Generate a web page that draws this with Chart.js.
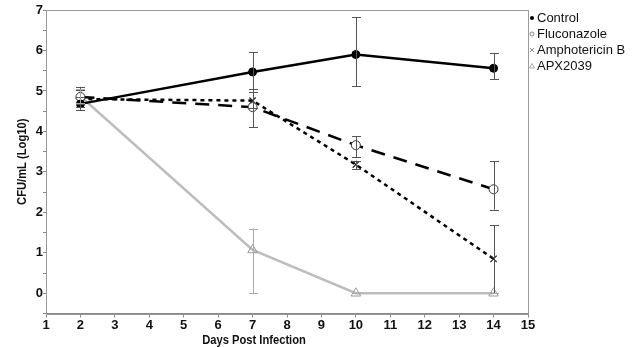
<!DOCTYPE html>
<html>
<head>
<meta charset="utf-8">
<script src="https://cdn.jsdelivr.net/npm/chart.js@4.4.1/dist/chart.umd.min.js"></script>
<style>
  html, body { margin: 0; padding: 0; background: #fff; }
  #wrap { width: 636px; height: 347px; }
</style>
</head>
<body>
<div id="wrap"><canvas id="c"></canvas></div>
<script>
// ── Data ────────────────────────────────────────────────────────────────────
const days = [2, 7, 10, 14];
const seriesNames = ["Control", "Fluconazole", "Amphotericin B", "APX2039"];

const controlMean = [4.68, 5.47, 5.90, 5.56];
const controlLow  = [4.53, 4.98, 5.12, 5.29];
const controlHigh = [4.85, 5.95, 6.82, 5.93];

const flucoMean = [4.85, 4.60, 3.66, 2.57];
const flucoLow  = [4.68, 4.11, 3.36, 2.07];
const flucoHigh = [5.10, 5.05, 3.88, 3.26];

const amphoMean = [4.80, 4.76, 3.18, 0.85];
const amphoLow  = [4.60, 4.58, 3.07, 0.00];
const amphoHigh = [5.02, 4.97, 3.28, 1.68];

const apxMean = [4.87, 1.07, 0.00, 0.00];
const apxLow  = [4.70, 0.00, 0.00, 0.00];
const apxHigh = [5.05, 1.60, 0.00, 0.00];

const xTicks = [1, 15];
const yTicks = [-0.5, 7];

const TICK_FONT = { family: "'Liberation Sans', Arial, sans-serif", size: 13, weight: "bold" };

const pts = (arr) => days.map((d, i) => ({ x: d, y: arr[i] }));

// ── Plugins ─────────────────────────────────────────────────────────────────
const errorBars = {
  id: "errorBars",
  afterDatasetsDraw(chart) {
    const { ctx, scales: { x, y } } = chart;
    ctx.save();
    chart.data.datasets.forEach(ds => {
      ctx.strokeStyle = ds.errColor;
      ctx.lineWidth = 1;
      days.forEach((d, i) => {
        const px = Math.round(x.getPixelForValue(d)) + 0.5;
        const lo = y.getPixelForValue(ds.low[i]);
        const hi = y.getPixelForValue(ds.high[i]);
        ctx.beginPath();
        ctx.moveTo(px, lo); ctx.lineTo(px, hi);
        ctx.moveTo(px - 4.5, Math.round(lo) + 0.5); ctx.lineTo(px + 4.5, Math.round(lo) + 0.5);
        ctx.moveTo(px - 4.5, Math.round(hi) + 0.5); ctx.lineTo(px + 4.5, Math.round(hi) + 0.5);
        ctx.stroke();
      });
    });
    ctx.restore();
  }
};

const frameAndText = {
  id: "frameAndText",
  afterDraw(chart) {
    const { ctx, chartArea: a } = chart;
    ctx.save();
    // frame
    ctx.strokeStyle = "#9a9a9a";
    ctx.lineWidth = 1;
    ctx.strokeRect(Math.round(a.left) + 0.5, Math.round(a.top) + 0.5,
                   Math.round(a.right - a.left), Math.round(a.bottom - a.top));
    // axis titles (slightly condensed like the original)
    ctx.fillStyle = "#111";
    ctx.font = "bold 13px 'Liberation Sans', Arial, sans-serif";
    ctx.textAlign = "center";
    ctx.textBaseline = "middle";
    ctx.save();
    ctx.translate(254, 340);
    ctx.scale(0.86, 1);
    ctx.fillText("Days Post Infection", 0, 0);
    ctx.restore();
    ctx.translate(22, (a.top + a.bottom) / 2);
    ctx.rotate(-Math.PI / 2);
    ctx.scale(0.86, 1);
    ctx.fillText("CFU/mL (Log10)", 0, 0);
    ctx.restore();

    // legend
    ctx.save();
    ctx.font = "13px 'Liberation Sans', Arial, sans-serif";
    ctx.textAlign = "left";
    ctx.textBaseline = "middle";
    chart.data.datasets.forEach((ds, i) => {
      const yy = 18 + i * 16;
      const xx = 532;
      ctx.fillStyle = "#000";
      ctx.lineWidth = 1;
      ctx.beginPath();
      if (ds.pointStyle === "circle") {
        ctx.arc(xx, yy, 2, 0, Math.PI * 2);
        if (ds.pointBackgroundColor === "#000") ctx.fill(); else { ctx.strokeStyle = "#888"; ctx.stroke(); }
      } else if (ds.pointStyle === "crossRot") {
        ctx.strokeStyle = "#888";
        ctx.moveTo(xx - 2, yy - 2); ctx.lineTo(xx + 2, yy + 2);
        ctx.moveTo(xx + 2, yy - 2); ctx.lineTo(xx - 2, yy + 2);
        ctx.stroke();
      } else {
        ctx.strokeStyle = "#aaa";
        ctx.moveTo(xx, yy - 2.5); ctx.lineTo(xx + 2.5, yy + 2); ctx.lineTo(xx - 2.5, yy + 2); ctx.closePath();
        ctx.stroke();
      }
      ctx.fillStyle = "#111";
      ctx.fillText(ds.label, xx + 5, yy);
    });
    ctx.restore();
  }
};

// ── Chart ───────────────────────────────────────────────────────────────────
new Chart(document.getElementById("c"), {
  type: "line",
  data: {
    datasets: [
      {
        label: seriesNames[0], data: pts(controlMean), low: controlLow, high: controlHigh,
        borderColor: "#000", borderWidth: 2.5, errColor: "#555",
        pointStyle: "circle", pointRadius: 4, pointBackgroundColor: "#000", pointBorderColor: "#000", pointBorderWidth: 1
      },
      {
        label: seriesNames[1], data: pts(flucoMean), low: flucoLow, high: flucoHigh,
        borderColor: "#000", borderWidth: 2.5, borderDash: [14, 9], errColor: "#555",
        pointStyle: "circle", pointRadius: 4.5, pointBackgroundColor: "#fff", pointBorderColor: "#333", pointBorderWidth: 1
      },
      {
        label: seriesNames[2], data: pts(amphoMean), low: amphoLow, high: amphoHigh,
        borderColor: "#000", borderWidth: 2.5, borderDash: [4, 4], errColor: "#555",
        pointStyle: "crossRot", pointRadius: 4.5, pointBorderColor: "#222", pointBorderWidth: 1.2
      },
      {
        label: seriesNames[3], data: pts(apxMean), low: apxLow, high: apxHigh,
        borderColor: "#bdbdbd", borderWidth: 2.5, errColor: "#aaa",
        pointStyle: "triangle", pointRadius: 5.5, pointBackgroundColor: "rgba(255,255,255,0)", pointBorderColor: "#999", pointBorderWidth: 1
      }
    ]
  },
  options: {
    responsive: true,
    maintainAspectRatio: false,
    animation: false,
    layout: { padding: { left: 0, right: 108, top: 10, bottom: 0 } },
    plugins: { legend: { display: false }, tooltip: { enabled: false } },
    scales: {
      x: {
        type: "linear", min: xTicks[0], max: xTicks[1],
        afterFit: s => { s.height = 33.5; },
        ticks: { stepSize: 1, color: "#111", font: TICK_FONT, padding: 0, maxRotation: 0 },
        grid: { drawOnChartArea: false, drawTicks: true, tickLength: 4, color: "#888" },
        border: { color: "#888" }
      },
      y: {
        min: yTicks[0], max: yTicks[1],
        afterFit: s => { s.width = 46; },
        ticks: {
          stepSize: 0.5, color: "#111", font: TICK_FONT, padding: 0,
          callback: v => Number.isInteger(v) ? v : ""
        },
        grid: { drawOnChartArea: false, drawTicks: true, tickLength: 3, color: "#888" },
        border: { color: "#888" }
      }
    }
  },
  plugins: [errorBars, frameAndText]
});
</script>
</body>
</html>
